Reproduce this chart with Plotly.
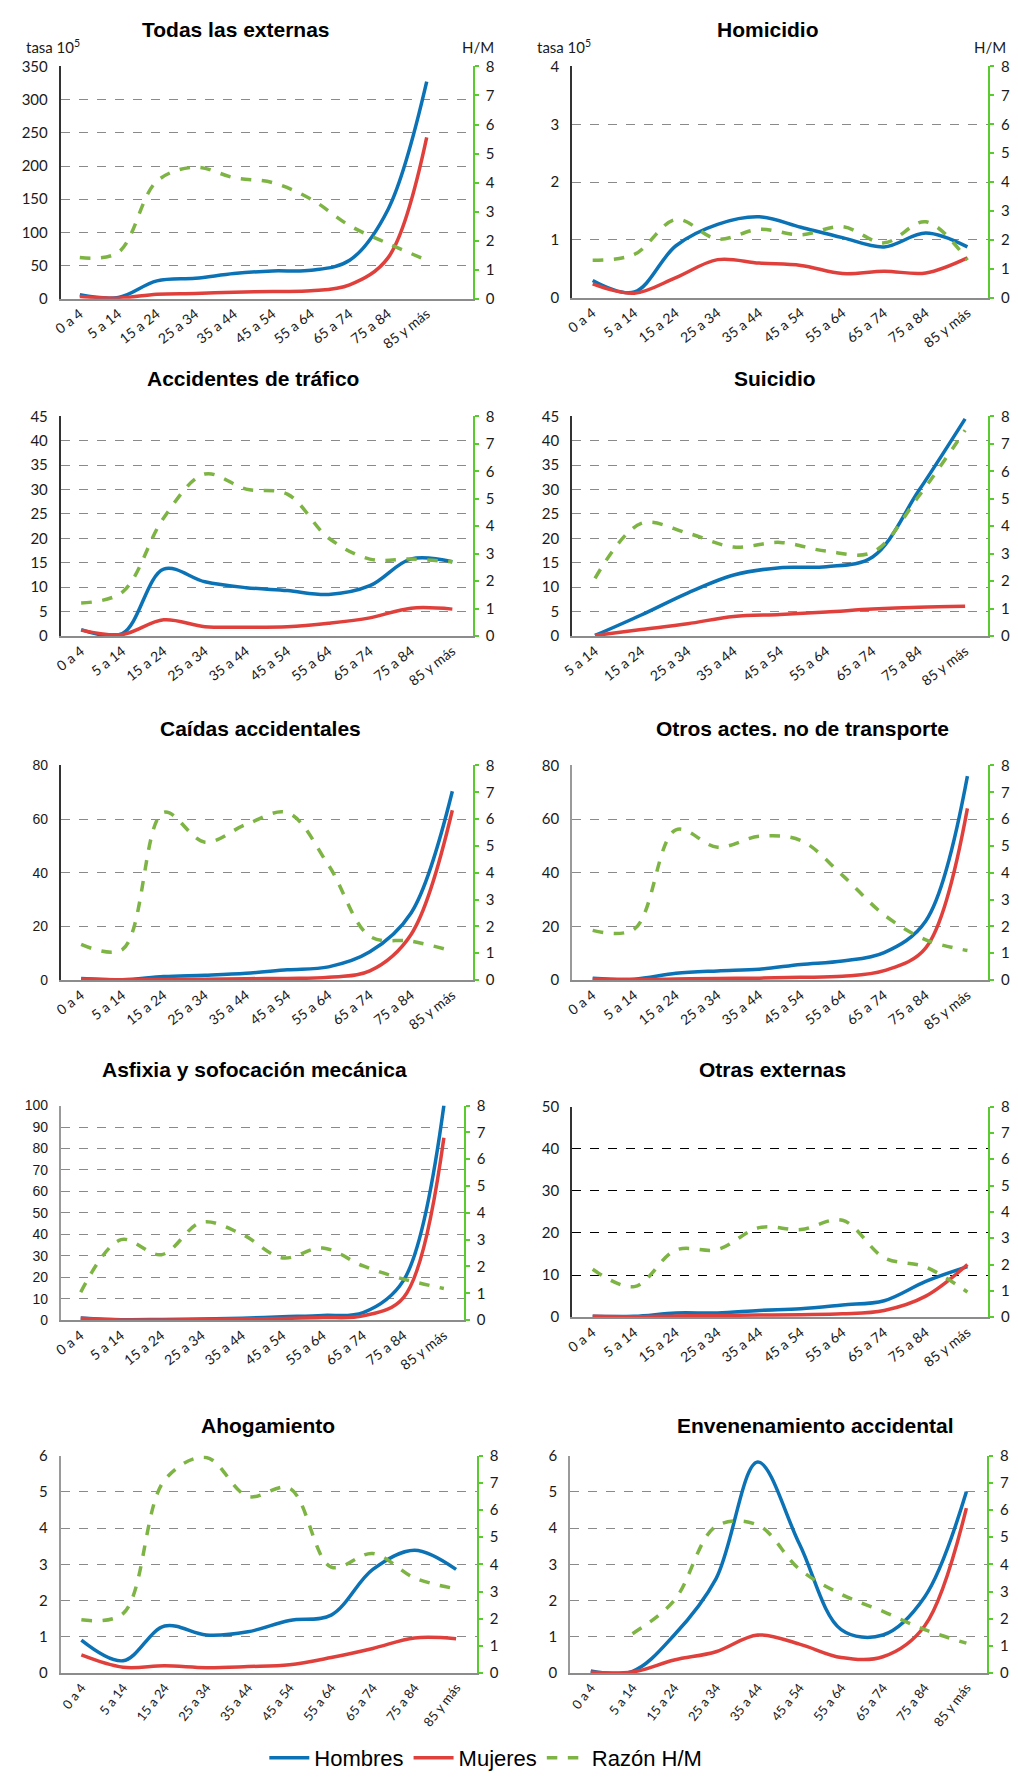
import plotly.graph_objects as go

W, H = 1018, 1787
BODY = 8  # default body margin of the html page
FW, FH = W - 2 * BODY, H - 2 * BODY

AGES = ["0 a 4", "5 a 14", "15 a 24", "25 a 34", "35 a 44", "45 a 54",
        "55 a 64", "65 a 74", "75 a 84", "85 y más"]
AGES_SUIC = AGES[1:]

# tasas por 10^5 (Hombres / Mujeres) y razón H/M
TODAS_H = [6, 2, 27, 31, 38, 42, 43, 58, 135, 327]
TODAS_M = [3.5, 1, 7, 8, 10, 11, 12, 21, 62, 243]
TODAS_R = [1.42, 1.6, 4.05, 4.53, 4.17, 4.0, 3.43, 2.52, 1.9, 1.33]

HOMI_H = [0.30, 0.10, 0.90, 1.27, 1.40, 1.22, 1.04, 0.88, 1.12, 0.88]
HOMI_M = [0.24, 0.08, 0.35, 0.66, 0.60, 0.56, 0.42, 0.46, 0.43, 0.69]
HOMI_R = [1.30, 1.50, 2.71, 2.03, 2.37, 2.18, 2.46, 1.90, 2.63, 1.30]

TRAF_H = [1.3, 0.5, 13.7, 11.1, 9.9, 9.3, 8.5, 10.3, 15.8, 15.2]
TRAF_M = [1.2, 0.3, 3.3, 1.9, 1.8, 1.9, 2.6, 3.7, 5.7, 5.5]
TRAF_R = [1.2, 1.6, 4.3, 5.9, 5.35, 5.17, 3.57, 2.8, 2.8, 2.7]

SUIC_H = [0.1, 4.3, 8.8, 12.5, 14.0, 14.2, 16.2, 29.8, 44.5]
SUIC_M = [0.1, 1.3, 2.5, 4.0, 4.4, 4.9, 5.5, 5.9, 6.1]
SUIC_R = [2.1, 4.1, 3.75, 3.24, 3.41, 3.09, 3.05, 5.1, 7.5]

CAID_H = [0.6, 0.1, 1.3, 1.8, 2.5, 3.8, 4.9, 10.5, 25, 70.4]
CAID_M = [0.4, 0.1, 0.2, 0.3, 0.5, 0.6, 1.0, 3.4, 17, 63.3]
CAID_R = [1.33, 1.14, 6.25, 5.14, 5.8, 6.24, 4.28, 1.63, 1.45, 1.08]

OTRO_H = [0.7, 0.3, 2.5, 3.4, 4.0, 5.8, 7.1, 10.2, 22, 76]
OTRO_M = [0.4, 0.2, 0.4, 0.6, 0.7, 1.0, 1.4, 3.5, 12, 64]
OTRO_R = [1.85, 1.9, 5.6, 4.95, 5.36, 5.2, 3.9, 2.43, 1.5, 1.1]

ASFI_H = [1.0, 0.2, 0.3, 0.5, 0.9, 1.6, 2.2, 3.5, 18.5, 100]
ASFI_M = [0.9, 0.1, 0.1, 0.3, 0.5, 0.8, 1.2, 2.0, 10.5, 85]
ASFI_R = [1.04, 3.0, 2.44, 3.65, 3.2, 2.32, 2.69, 2.02, 1.53, 1.18]

OTRAS_H = [0.2, 0.2, 1.0, 1.0, 1.6, 2.0, 2.9, 3.9, 8.5, 12]
OTRAS_M = [0.2, 0.1, 0.3, 0.4, 0.5, 0.6, 0.8, 1.6, 5.0, 12.5]
OTRAS_R = [1.82, 1.16, 2.55, 2.57, 3.4, 3.33, 3.68, 2.26, 1.9, 0.95]

AHOG_H = [0.91, 0.34, 1.3, 1.05, 1.14, 1.45, 1.6, 2.86, 3.39, 2.86]
AHOG_M = [0.5, 0.16, 0.2, 0.15, 0.18, 0.23, 0.43, 0.68, 0.97, 0.95]
AHOG_R = [1.96, 2.19, 7.1, 7.93, 6.5, 6.8, 3.9, 4.4, 3.5, 3.1]

ENVE_H = [0.06, 0.05, 1.05, 2.6, 5.82, 3.56, 1.2, 1.05, 2.1, 5.0]
ENVE_M = [0.02, 0.03, 0.36, 0.59, 1.05, 0.8, 0.43, 0.45, 1.3, 4.55]
ENVE_R = [None, 1.45, 2.67, 5.4, 5.45, 3.82, 2.9, 2.27, 1.6, 1.1]

TITLES = ["Todas las externas", "Homicidio", "Accidentes de tráfico", "Suicidio",
          "Caídas accidentales", "Otros actes. no de transporte",
          "Asfixia y sofocación mecánica", "Otras externas",
          "Ahogamiento", "Envenenamiento accidental"]
CATS = [AGES, AGES, AGES, AGES_SUIC, AGES, AGES, AGES, AGES, AGES, AGES]
HOMBRES = [TODAS_H, HOMI_H, TRAF_H, SUIC_H, CAID_H, OTRO_H, ASFI_H, OTRAS_H, AHOG_H, ENVE_H]
MUJERES = [TODAS_M, HOMI_M, TRAF_M, SUIC_M, CAID_M, OTRO_M, ASFI_M, OTRAS_M, AHOG_M, ENVE_M]
RAZON = [TODAS_R, HOMI_R, TRAF_R, SUIC_R, CAID_R, OTRO_R, ASFI_R, OTRAS_R, AHOG_R, ENVE_R]
YMAX = [350, 4, 45, 45, 80, 80, 100, 50, 6, 6]
YSTEP = [50, 1, 5, 5, 20, 20, 10, 10, 1, 1]

# geometry in page pixels: x0, x1, ytop, ybottom, title centre x, title y
BOXES = [
    (50, 467, 57, 292, 227, 20),
    (567, 988, 57, 291, 765, 20),
    (50, 467, 411, 633, 245, 373),
    (567, 988, 411, 633, 772, 373),
    (50, 467, 764, 981, 252, 727),
    (567, 988, 764, 981, 800, 727),
    (50, 458, 1108, 1325, 246, 1072),
    (567, 988, 1109, 1322, 770, 1072),
    (50, 471, 1462, 1682, 260, 1432),
    (565, 987, 1462, 1682, 813, 1432),
]
XEXTRA = [0.7, 0, 0, 0, 0, 0, 0, 0, 0, 0]

BLUE = "#0B72B5"
RED = "#E0403C"
GREEN = "#7DB443"
AXGREEN = "#5ACB2E"
GRID = "#8A8A8A"
TICKFONT = dict(family="Lato, Carlito, sans-serif", size=15, color="#1a1a1a")


def px(x):
    return (x - BODY) / FW


def py(y):
    return 1 - (y - BODY) / FH


fig = go.Figure()
layout = {}
annotations = []

for i in range(10):
    k = i + 1
    xs = "x" if k == 1 else f"x{k}"
    yl = "y" if k == 1 else f"y{2 * k - 1}"
    yr = f"y{2 * k}"
    x0, x1, yt, yb, tx, ty = BOXES[i]
    cats = CATS[i]

    fig.add_trace(go.Scatter(x=cats, y=HOMBRES[i], mode="lines", name="Hombres",
                             line=dict(color=BLUE, width=3.5, shape="spline", smoothing=1),
                             xaxis=xs, yaxis=yl, showlegend=(k == 1), legendrank=1))
    fig.add_trace(go.Scatter(x=cats, y=MUJERES[i], mode="lines", name="Mujeres",
                             line=dict(color=RED, width=3.5, shape="spline", smoothing=1),
                             xaxis=xs, yaxis=yl, showlegend=(k == 1), legendrank=2))
    fig.add_trace(go.Scatter(x=cats, y=RAZON[i], mode="lines", name="Razón H/M",
                             line=dict(color=GREEN, width=3.5, dash="dash", shape="spline", smoothing=1),
                             xaxis=xs, yaxis=yr, showlegend=(k == 1), legendrank=3))

    xkey = "xaxis" if k == 1 else f"xaxis{k}"
    ylkey = "yaxis" if k == 1 else f"yaxis{2 * k - 1}"
    yrkey = f"yaxis{2 * k}"
    last_row = k >= 9
    left_color = "#9a9a9a" if k in (6, 7, 9, 10) else "#333333"

    layout[xkey] = dict(domain=[px(x0), px(x1)], anchor=yl, type="category",
                        categoryorder="array", categoryarray=cats,
                        range=[-0.5, len(cats) - 0.5 + XEXTRA[i]],
                        showline=True, linecolor="#8c8c8c", linewidth=1.5,
                        showgrid=False, ticks="", tickangle=-52 if last_row else -38,
                        tickfont=dict(family="Lato, sans-serif", size=14 if not last_row else 13,
                                      color="#1a1a1a"),
                        fixedrange=True)
    left_font = dict(TICKFONT)
    if k in (5, 7):
        left_font["family"] = "Liberation Sans, Arial, sans-serif"
        left_font["size"] = 14
    layout[ylkey] = dict(domain=[py(yb), py(yt)], anchor=xs, range=[0, YMAX[i]],
                         dtick=YSTEP[i], tick0=0, showgrid=True,
                         gridcolor="#000000" if k == 8 else GRID, griddash="dash",
                         gridwidth=1.3, zeroline=False, showline=True,
                         linecolor=left_color, linewidth=1.5, ticks="",
                         ticklabelstandoff=8, tickfont=left_font, fixedrange=True)
    layout[yrkey] = dict(domain=[py(yb), py(yt)], anchor=xs, overlaying=yl, side="right",
                         range=[0, 8], dtick=1, tick0=0, showgrid=False, zeroline=False,
                         showline=True, linecolor=AXGREEN, linewidth=1.5,
                         ticks="outside", ticklen=4, tickwidth=1.5, tickcolor=AXGREEN,
                         ticklabelstandoff=4, tickfont=TICKFONT, fixedrange=True)

    annotations.append(dict(x=px(tx), y=py(ty), xref="paper", yref="paper",
                            text=f"<b>{TITLES[i]}</b>", showarrow=False,
                            xanchor="center", yanchor="middle",
                            font=dict(family="Liberation Sans, Arial, sans-serif",
                                      size=21, color="black")))

# unit labels on the first row
for tx, anchor, txt in [(13, "left", "tasa 10<sup>5</sup>"), (530, "left", "tasa 10<sup>5</sup>"),
                        (490, "right", "H/M"), (1008, "right", "H/M")]:
    annotations.append(dict(x=px(tx), y=py(37), xref="paper", yref="paper",
                            text=txt, showarrow=False, xanchor=anchor, yanchor="middle",
                            font=dict(family="Lato, sans-serif", size=15, color="#1a1a1a")))

fig.update_layout(**layout)
fig.update_layout(
    width=FW, height=FH,
    margin=dict(l=0, r=0, t=0, b=0),
    paper_bgcolor="white", plot_bgcolor="white",
    annotations=annotations,
    showlegend=True,
    legend=dict(orientation="h", x=px(480), xanchor="center", y=py(1768), yanchor="middle",
                font=dict(family="Liberation Sans, Arial, sans-serif", size=22, color="black"),
                itemwidth=40, tracegroupgap=0, traceorder="normal"),
)

fig.write_html("out.html")
